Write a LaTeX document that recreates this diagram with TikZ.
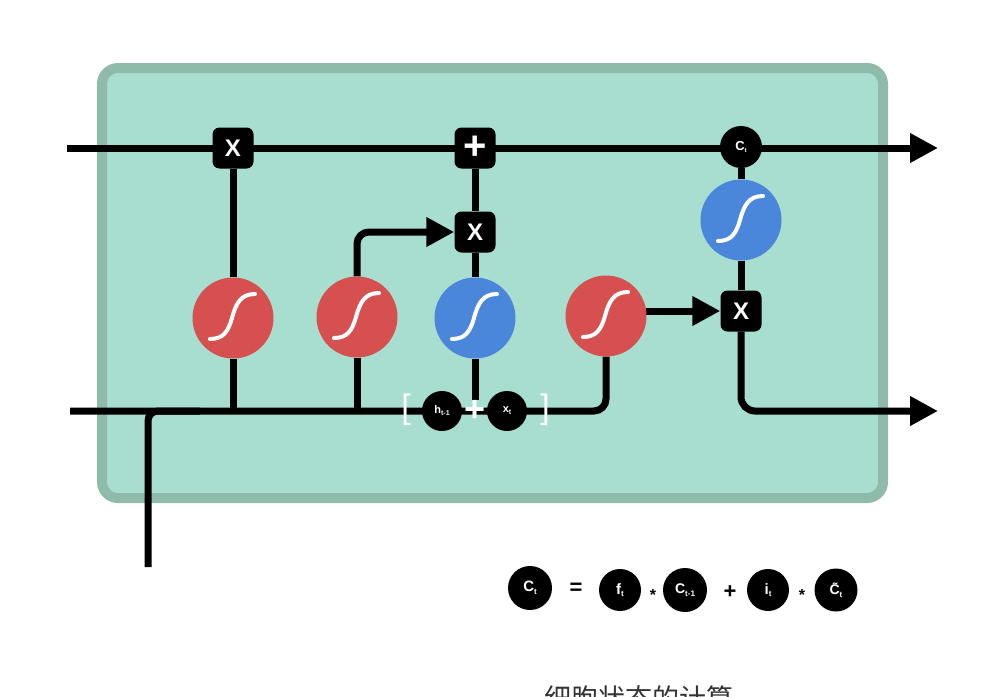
\documentclass[tikz,border=0pt]{standalone}
\usepackage{fontspec}
\setmainfont{Liberation Sans}
\newfontfamily\cjk{Noto Sans CJK SC}
\usetikzlibrary{arrows.meta}
\definecolor{boxfill}{RGB}{168,222,208}
\definecolor{boxedge}{RGB}{143,187,171}
\definecolor{sigred}{RGB}{214,80,80}
\definecolor{sigblue}{RGB}{74,134,217}
\pgfdeclarelayer{bg}
\pgfdeclarelayer{wires}
\pgfsetlayers{bg,wires,main}
\newcommand\subt[2]{\raisebox{-0.18em}{\fontsize{#1}{#1}\selectfont #2}}
\tikzset{
  wire/.style={line width=7, black},
  arrowend/.style={-{Triangle[length=28pt,width=28pt]}},
  gatebox/.style={rectangle, fill=black, rounded corners=7, minimum width=41, minimum height=41, inner sep=0, text=white, font=\fontsize{24}{24}\selectfont\bfseries},
  sig/.style={circle, minimum size=81, inner sep=0, fill=#1},
  dot/.style={circle, minimum size=#1, inner sep=0, fill=black, text=white, font=\bfseries},
  sym/.style={inner sep=0, font=\fontsize{#1}{#1}\selectfont\bfseries},
  scurve/.pic={\draw[white, line width=4, line cap=round] (-23,21) .. controls (-10,21) and (-5,14) .. (-1,0) .. controls (3,-15) and (8,-24) .. (22,-24);}
}
\begin{document}
\begin{tikzpicture}[x=1pt,y=-1pt]
\useasboundingbox (0,0) rectangle (1000,696);
\clip (0,0) rectangle (1000,696);
\begin{pgfonlayer}{bg}
  \draw[line width=10, draw=boxedge, fill=boxfill, rounded corners=16] (102,68) rectangle (883,498);
\end{pgfonlayer}

% gates
\node[gatebox] (x1) at (233,148) {X};
\node[gatebox, font=\fontsize{40}{40}\selectfont\bfseries] (pl) at (475,148) {+};
\node[gatebox] (x2) at (475,232) {X};
\node[gatebox] (x3) at (741,311) {X};
\node[dot=42] (ct) at (741,147) {\fontsize{13}{13}\selectfont C\subt{6}{t}};

\node[sig=sigred] (s1) at (233,318) {};
\node[sig=sigred] (s2) at (357,317) {};
\node[sig=sigblue] (s3) at (475,318) {};
\node[sig=sigred] (s4) at (606,316) {};
\node[sig=sigblue] (s5) at (741,220) {};
\foreach \s in {s1,s2,s3,s4,s5} { \path (\s) pic {scurve}; }

\node[dot=40] (h) at (442,411) {\fontsize{11}{11}\selectfont h\subt{7}{t-1}};
\node[dot=40] (xt) at (507,411) {\fontsize{11}{11}\selectfont x\subt{7}{t}};
\node[sym=36, text=white] (bp) at (475,411) {+};
\node[inner sep=0, text=white, font=\fontsize{34}{34}\selectfont] (lb) at (406,410) {[};
\node[inner sep=0, text=white, font=\fontsize{34}{34}\selectfont] (rb) at (545,410) {]};

% free ends
\coordinate (inT) at (67,148);
\coordinate (outT) at (938,148);
\coordinate (inB) at (70,411);
\coordinate (outB) at (938,411);
\coordinate (inX) at (148,567);
\coordinate (jX) at (200,411);

\begin{pgfonlayer}{wires}
  \draw[wire, arrowend] (inT) -- (outT);
  \draw[wire, rounded corners=12] (inB) -| (s4);
  \draw[wire, rounded corners=10] (inX) |- (jX);
  \draw[wire] (x1) -- (s1) -- (s1 |- inB);
  \draw[wire] (s2) -- (s2 |- inB);
  \draw[wire, arrowend, rounded corners=12] (s2) |- (x2.west);
  \draw[wire] (pl) -- (x2) -- (s3) -- (bp.north);
  \draw[wire, arrowend] (s4.center |- x3) -- (x3.west);
  \draw[wire] (ct) -- (s5) -- (x3);
  \draw[wire, arrowend, rounded corners=14] (x3) |- (outB);
\end{pgfonlayer}

% formula
\node[dot=44] (fc) at (530,588) {\fontsize{15}{15}\selectfont C\subt{8}{t}};
\node[sym=22] (eq) at (576,589) {=};
\node[dot=42] (ff) at (620,590) {\fontsize{15}{15}\selectfont f\subt{8}{t}};
\node[sym=16] (st1) at (653,595) {*};
\node[dot=44] (fc1) at (685,590) {\fontsize{14}{14}\selectfont C\subt{8}{t-1}};
\node[sym=22] (fp) at (730,592) {+};
\node[dot=42] (fi) at (768,590) {\fontsize{15}{15}\selectfont i\subt{8}{t}};
\node[sym=16] (st2) at (802,595) {*};
\node[dot=43] (fct) at (836,590) {\fontsize{14}{14}\selectfont \~{C}\subt{8}{t}};

\node[anchor=base, font=\cjk\fontsize{27}{27}\selectfont, text=black!80, inner sep=0] (cap) at (639,708) {细胞状态的计算};
\end{tikzpicture}
\end{document}
